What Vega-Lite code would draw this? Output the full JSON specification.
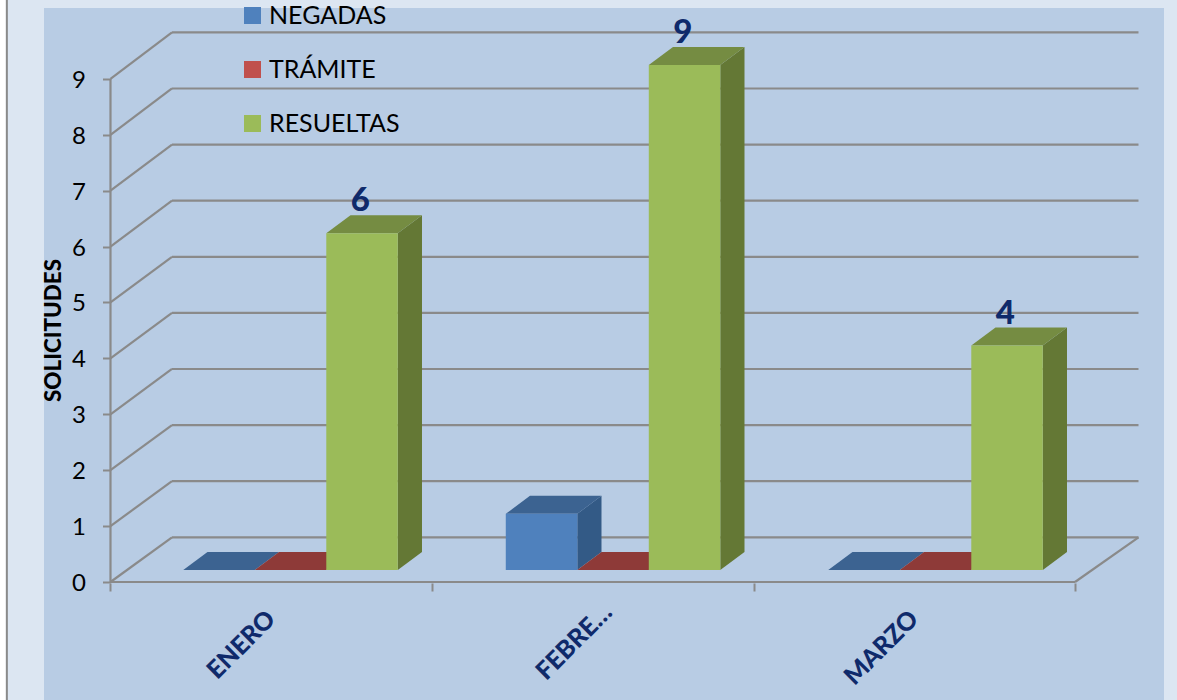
{
"$schema":"https://vega.github.io/schema/vega-lite/v6.json",
"width":1120,"height":692,
"autosize":{"type":"none"},
"padding":{"left":44,"top":8,"right":13,"bottom":0},
"background":"#dce6f2",
"view":{"fill":"#b8cce4","stroke":null},
"config":{"font":"Lato"},
"datasets":{
"barras":[
{"mes":"ENERO","etiqueta":"ENERO","serie":"NEGADAS","valor":0},
{"mes":"ENERO","etiqueta":"ENERO","serie":"TRÁMITE","valor":0},
{"mes":"ENERO","etiqueta":"ENERO","serie":"RESUELTAS","valor":6},
{"mes":"FEBRERO","etiqueta":"FEBRE…","serie":"NEGADAS","valor":1},
{"mes":"FEBRERO","etiqueta":"FEBRE…","serie":"TRÁMITE","valor":0},
{"mes":"FEBRERO","etiqueta":"FEBRE…","serie":"RESUELTAS","valor":9},
{"mes":"MARZO","etiqueta":"MARZO","serie":"NEGADAS","valor":0},
{"mes":"MARZO","etiqueta":"MARZO","serie":"TRÁMITE","valor":0},
{"mes":"MARZO","etiqueta":"MARZO","serie":"RESUELTAS","valor":4}
],
"niveles":[{"v":0},{"v":1},{"v":2},{"v":3},{"v":4},{"v":5},{"v":6},{"v":7},{"v":8},{"v":9}],
"marco":[{"parte":"eje y"},{"parte":"eje x"},{"parte":"suelo"},{"parte":"banda"},{"parte":"borde"}]
},
"layer":[
{"data":{"name":"niveles"},
 "transform":[{"calculate":"0","as":"xf"},{"calculate":"0.1913","as":"xa"},{"calculate":"0.7996+1.0036*datum.v","as":"yz"}],
 "mark":{"type":"rule","color":"#8a8a8a","strokeWidth":2.2},
 "encoding":{
  "x":{"field":"xf","type":"quantitative","scale":{"domain":[-0.2068,3.2768],"nice":false,"zero":false},
       "axis":{"values":[0,1,2,3],"labels":false,"orient":"bottom","offset":-117,"domain":false,"grid":false,"title":null,"tickSize":8,"tickColor":"#8a8a8a","tickWidth":2}},
  "x2":{"field":"xa"},
  "y":{"field":"v","type":"quantitative","scale":{"domain":[-2.111,10.268],"nice":false,"zero":false},
       "axis":{"values":[0,1,2,3,4,5,6,7,8,9],"orient":"left","offset":-66.5,"domain":false,"grid":false,"tickSize":8,"tickColor":"#8a8a8a","tickWidth":2,"labelPadding":17,"labelFontSize":24,"labelOffset":1.5,"labelColor":"#000000","title":"SOLICITUDES","titleFontSize":22.4,"titleFontWeight":900,"titleColor":"#000000","titleAngle":-90,"titleX":-57.5,"titleY":322,"titleAlign":"center","titleBaseline":"middle"}},
  "y2":{"field":"yz"}
 }},
{"data":{"name":"niveles"},
 "transform":[{"calculate":"0.1913","as":"xa"},{"calculate":"3.1975","as":"xe"},{"calculate":"0.7996+1.0036*datum.v","as":"yz"}],
 "mark":{"type":"rule","color":"#8a8a8a","strokeWidth":2.2},
 "encoding":{"x":{"field":"xa","type":"quantitative","axis":null},"x2":{"field":"xe"},"y":{"field":"yz","type":"quantitative","axis":null}}},
{"data":{"name":"marco"},
 "transform":[{"filter":"datum.parte!='banda' && datum.parte!='borde'"},
  {"calculate":"datum.parte=='suelo'?3:0","as":"xa"},
  {"calculate":"datum.parte=='eje y'?0:datum.parte=='eje x'?3:3.1975","as":"xe"},
  {"calculate":"0","as":"ya"},
  {"calculate":"datum.parte=='eje y'?9:datum.parte=='eje x'?0:0.7996","as":"ye"}],
 "mark":{"type":"rule","color":"#8a8a8a","strokeWidth":2.2},
 "encoding":{"x":{"field":"xa","type":"quantitative","axis":null},"x2":{"field":"xe"},"y":{"field":"ya","type":"quantitative","axis":null},"y2":{"field":"ye"}}},
{"data":{"name":"marco"},
 "transform":[{"filter":"datum.parte=='banda'"},{"calculate":"-0.3348","as":"xa"},{"calculate":"-2.111","as":"ya"},{"calculate":"10.41","as":"ye"}],
 "mark":{"type":"rule","color":"#ffffff","strokeWidth":6},
 "encoding":{"x":{"field":"xa","type":"quantitative","axis":null},"y":{"field":"ya","type":"quantitative","axis":null},"y2":{"field":"ye"}}},
{"data":{"name":"marco"},
 "transform":[{"filter":"datum.parte=='borde'"},{"calculate":"-0.3223","as":"xa"},{"calculate":"-2.111","as":"ya"},{"calculate":"10.41","as":"ye"}],
 "mark":{"type":"rule","color":"#8a8a8a","strokeWidth":2},
 "encoding":{"x":{"field":"xa","type":"quantitative","axis":null},"y":{"field":"ya","type":"quantitative","axis":null},"y2":{"field":"ye"}}},
{"data":{"name":"barras"},
 "transform":[
  {"calculate":"indexof(['ENERO','FEBRERO','MARZO'],datum.mes)","as":"im"},
  {"calculate":"indexof(['NEGADAS','TRÁMITE','RESUELTAS'],datum.serie)","as":"is"},
  {"calculate":"0.2264+1.0031*datum.im+0.2224*datum.is+0.2224","as":"x1"},
  {"calculate":"[0,1]","as":"t"},{"flatten":["t"]},
  {"calculate":"datum.x1+datum.t*0.0753","as":"xs"},
  {"calculate":"0.2154+datum.t*0.322","as":"ya"},
  {"calculate":"0.2154+1.0036*datum.valor+datum.t*0.322","as":"yc"}],
 "mark":{"type":"area","opacity":1},
 "encoding":{
  "x":{"field":"xs","type":"quantitative","axis":null},
  "y":{"field":"ya","type":"quantitative","axis":null},
  "y2":{"field":"yc"},
  "detail":{"field":"mes"},
  "color":{"field":"serie","type":"nominal","legend":null,"scale":{"domain":["NEGADAS","TRÁMITE","RESUELTAS"],"range":["#335a86","#7d3331","#647835"]}}
 }},
{"data":{"name":"barras"},
 "transform":[
  {"calculate":"indexof(['ENERO','FEBRERO','MARZO'],datum.mes)","as":"im"},
  {"calculate":"indexof(['NEGADAS','TRÁMITE','RESUELTAS'],datum.serie)","as":"is"},
  {"calculate":"0.2264+1.0031*datum.im+0.2224*datum.is","as":"x0"},
  {"calculate":"0.2154+1.0036*datum.valor","as":"yt"},
  {"calculate":"[0,1,2,3]","as":"t"},{"flatten":["t"]},
  {"calculate":"datum.x0+(datum.t==0?0:datum.t==1?0.0753:datum.t==2?0.2224:0.2977)","as":"xs"},
  {"calculate":"datum.yt+(datum.t==0?0:0.322)","as":"ya"},
  {"calculate":"datum.yt+(datum.t==3?0.322:0)","as":"yc"}],
 "mark":{"type":"area","opacity":1},
 "encoding":{
  "x":{"field":"xs","type":"quantitative","axis":null},
  "y":{"field":"ya","type":"quantitative","axis":null},
  "y2":{"field":"yc"},
  "detail":{"field":"mes"},
  "color":{"field":"serie","type":"nominal","legend":null,"scale":{"domain":["NEGADAS","TRÁMITE","RESUELTAS"],"range":["#3c6391","#8e3a38","#758c42"]}}
 }},
{"data":{"name":"barras"},
 "transform":[
  {"calculate":"indexof(['ENERO','FEBRERO','MARZO'],datum.mes)","as":"im"},
  {"calculate":"indexof(['NEGADAS','TRÁMITE','RESUELTAS'],datum.serie)","as":"is"},
  {"calculate":"0.2264+1.0031*datum.im+0.2224*datum.is","as":"x0"},
  {"calculate":"datum.x0+0.2224","as":"x1"},
  {"calculate":"0.2154","as":"yb"},
  {"calculate":"0.2154+1.0036*datum.valor","as":"yt"}],
 "mark":{"type":"rect"},
 "encoding":{
  "x":{"field":"x0","type":"quantitative","axis":null},"x2":{"field":"x1"},
  "y":{"field":"yb","type":"quantitative","axis":null},"y2":{"field":"yt"},
  "color":{"field":"serie","type":"nominal","scale":{"domain":["NEGADAS","TRÁMITE","RESUELTAS"],"range":["#4f81bd","#c0504d","#9bbb59"]},
   "legend":{"title":null,"orient":"none","legendX":196,"legendY":-5,"symbolType":"square","symbolSize":289,"symbolStrokeWidth":0,"labelFontSize":25,"labelColor":"#000000","labelOffset":4,"rowPadding":28,"padding":0}}
 }},
{"data":{"name":"barras"},
 "transform":[{"filter":"datum.serie=='RESUELTAS'"},
  {"calculate":"indexof(['ENERO','FEBRERO','MARZO'],datum.mes)","as":"im"},
  {"calculate":"0.2214+1.0031*datum.im+0.2224*2.5","as":"xc"},
  {"calculate":"0.2154+1.0036*datum.valor","as":"yt"}],
 "mark":{"type":"text","fontSize":33,"fontWeight":900,"color":"#0f2a6b","yOffset":-32,"baseline":"middle","align":"center"},
 "encoding":{"x":{"field":"xc","type":"quantitative","axis":null},"y":{"field":"yt","type":"quantitative","axis":null},"text":{"field":"valor","type":"quantitative"}}},
{"data":{"name":"barras"},
 "transform":[{"filter":"datum.serie=='TRÁMITE'"},
  {"calculate":"indexof(['ENERO','FEBRERO','MARZO'],datum.mes)+0.5+(datum.mes=='FEBRERO'?0.047:0)","as":"xc"},
  {"calculate":"datum.mes=='FEBRERO'?-0.47:-0.59","as":"yl"}],
 "mark":{"type":"text","fontSize":25,"fontWeight":900,"color":"#0f2a6b","angle":315,"align":"right","baseline":"middle"},
 "encoding":{"x":{"field":"xc","type":"quantitative","axis":null},"y":{"field":"yl","type":"quantitative","axis":null},"text":{"field":"etiqueta","type":"nominal"}}}
],
"resolve":{"scale":{"color":"independent"},"axis":{"x":"independent","y":"independent"}}
}
